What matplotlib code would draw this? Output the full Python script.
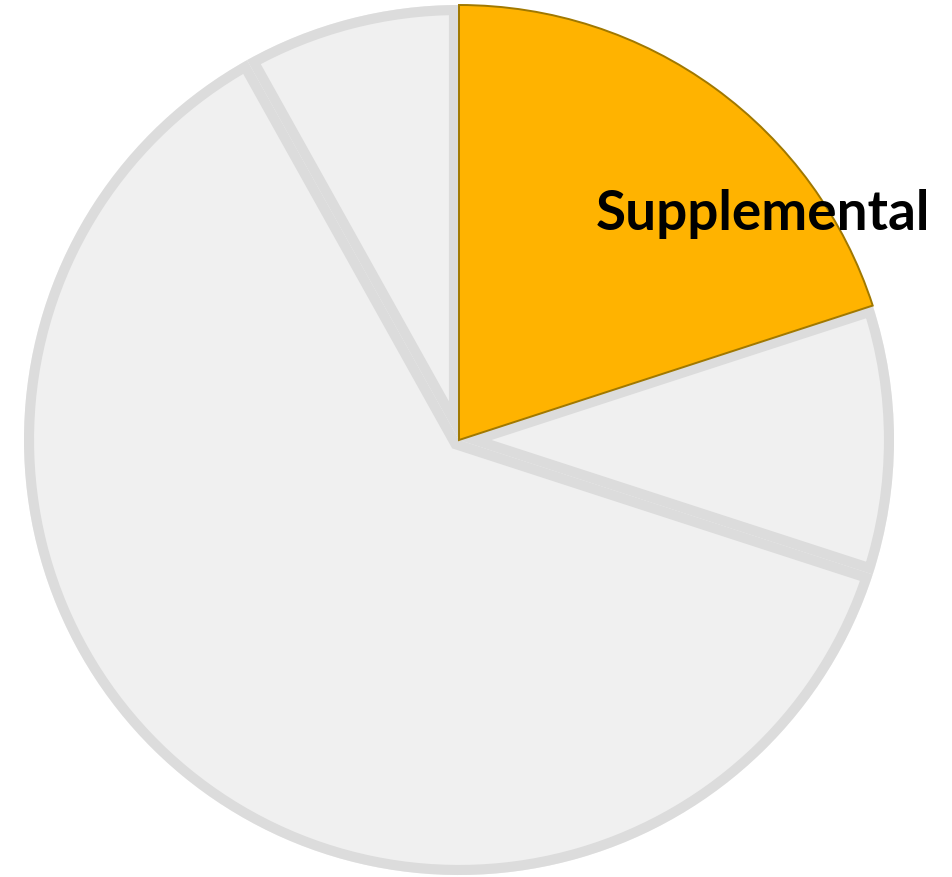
import matplotlib.pyplot as plt
from matplotlib.patches import Wedge

labels = ["Supplemental", "Other A", "Other B", "Other C"]
shares = [20.0, 10.0, 61.9, 8.1]
colors = ["#FFB300", "#F0F0F0", "#F0F0F0", "#F0F0F0"]

W, H = 953, 877
fig = plt.figure(figsize=(W / 100, H / 100), dpi=100)
ax = fig.add_axes([0, 0, 1, 1])

wedges, _ = ax.pie(shares, colors=colors, startangle=90, counterclock=False,
                   center=(459, H - 440), radius=435,
                   wedgeprops=dict(edgecolor="none", linewidth=0))

# grey slices: inner stroke, drawn as a copy of the wedge clipped to itself
for w in wedges[1:]:
    edge = Wedge(w.center, w.r, w.theta1, w.theta2, facecolor="none",
                 edgecolor="#DCDCDC", linewidth=14.5, zorder=2)
    ax.add_patch(edge)
    edge.set_clip_path(w.get_path(), w.get_transform())

hl = wedges[0]
hl.set_edgecolor("#A07800")
hl.set_linewidth(1.4)
hl.set_zorder(3)

ax.text(763, H - 230, "Supplemental", ha="center", va="baseline",
        fontsize=39.5, fontweight="bold", family="Lato", color="black", zorder=4)

ax.set_xlim(0, W)
ax.set_ylim(0, H)
ax.axis("off")

fig.savefig("out.png", dpi=100)
